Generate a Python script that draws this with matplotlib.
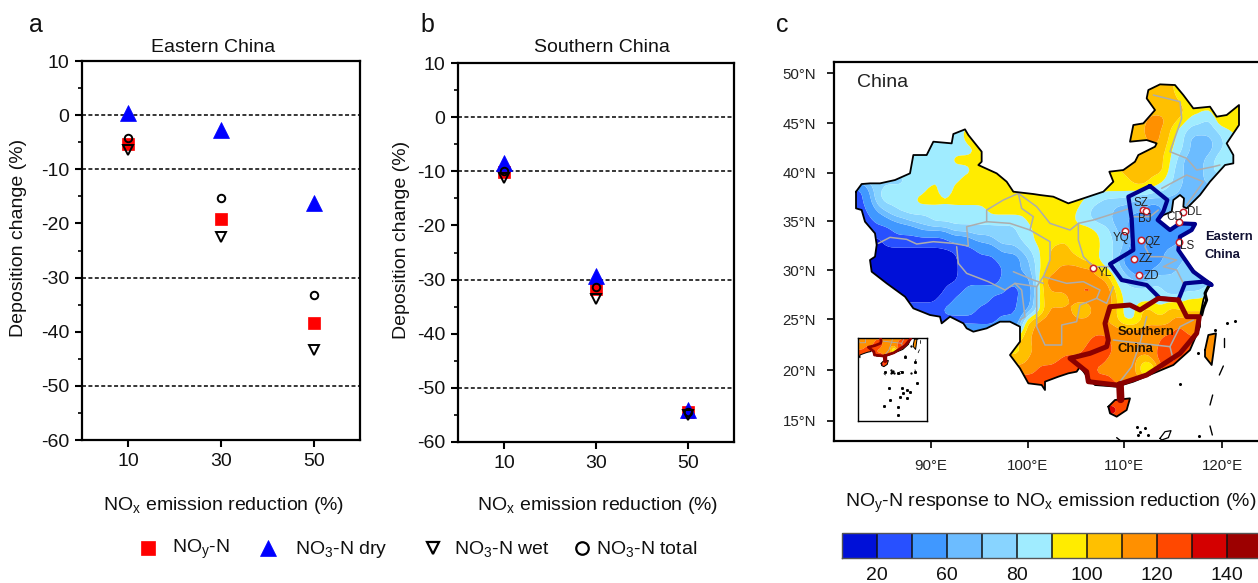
import numpy as np
import matplotlib
matplotlib.use("Agg")
import matplotlib.pyplot as plt
from matplotlib.colors import ListedColormap, BoundaryNorm
from matplotlib.cm import ScalarMappable
from matplotlib.lines import Line2D
from matplotlib.path import Path
from matplotlib.patches import PathPatch
from matplotlib.ticker import MultipleLocator

plt.rcParams['font.family'] = ['Liberation Sans', 'DejaVu Sans']
plt.rcParams['mathtext.fontset'] = 'custom'
plt.rcParams['mathtext.rm'] = 'Liberation Sans'
plt.rcParams['mathtext.default'] = 'regular'
plt.rcParams['axes.unicode_minus'] = False

W, H = 1258, 583

# ---- panels a, b
reductions = ['10', '30', '50']
east_noy = [-5.3, -19.2, -38.3]
east_dry = [0.4, -2.8, -16.2]
east_wet = [-6.5, -22.5, -43.3]
east_tot = [-4.2, -15.3, -33.3]
south_noy = [-10.2, -31.8, -54.5]
south_dry = [-8.5, -29.3, -54.0]
south_wet = [-11.2, -33.5, -55.0]
south_tot = [-10.0, -31.3, -54.5]
dash_levels = [0, -10, -30, -50]

# ---- colour scale
levels = [10, 20, 40, 60, 70, 80, 90, 100, 110, 120, 130, 140, 150]
colors = ['#0010D8', '#2850FF', '#4098FF', '#6CBCFF', '#88D4FF', '#A0ECFF',
          '#FFEC00', '#FFC000', '#FF9000', '#FF4800', '#D40000', '#9C0000']
cbar_ticks = [20, 60, 80, 100, 120, 140]
class_values = [15, 30, 50, 65, 75, 85, 95, 105, 115, 125, 135, 145]

# ---- response field: (colour class, end of the band)
scan_y0, scan_dy = 60, 30
scan_lines = [
 [(5,900),(7,1040),(5,1300)],
 [(5,900),(7,1035),(5,1300)],
 [(5,900),(7,1050),(6,1070),(5,1300)],
 [(5,900),(7,1065),(6,1300)],
 [(5,900),(7,950),(8,1010),(7,1050),(6,1070),(5,1115),(4,1150),(6,1165),(7,1190),(6,1300)],
 [(5,395),(6,440),(7,940),(8,990),(7,1025),(5,1070),(4,1160),(5,1200),(6,1300)],
 [(5,395),(6,440),(7,950),(8,990),(7,1015),(6,1030),(5,1070),(3,1150),(4,1180),(5,1300)],
 [(5,440),(6,480),(7,1010),(6,1020),(5,1060),(4,1080),(3,1150),(4,1175),(5,1300)],
 [(5,355),(6,470),(7,1000),(6,1015),(5,1050),(3,1120),(4,1160),(6,1200),(5,1300)],
 [(5,430),(6,870),(7,1005),(5,1030),(4,1060),(3,1120),(4,1150),(5,1300)],
 [(4,225),(5,320),(6,360),(5,385),(6,900),(7,960),(6,1000),(5,1030),(4,1060),(3,1120),(4,1300)],
 [(1,95),(2,110),(3,130),(4,150),(5,285),(6,325),(4,360),(6,480),(5,500),(6,960),(5,1010),(4,1050),(3,1300)],
 [(1,100),(2,115),(3,130),(4,150),(5,245),(6,755),(5,810),(4,900),(3,1300)],
 [(1,105),(2,130),(3,160),(4,195),(5,470),(6,740),(5,780),(4,850),(3,950),(2,990),(3,1300)],
 [(1,125),(2,165),(3,225),(4,300),(5,590),(6,730),(5,775),(4,840),(3,900),(2,1000),(3,1300)],
 [(1,190),(2,260),(3,360),(4,560),(5,605),(6,800),(5,850),(3,900),(2,1300)],
 [(0,160),(1,350),(2,420),(3,490),(4,570),(5,610),(6,695),(7,710),(6,810),(5,850),(4,880),(3,910),(2,1040),(3,1300)],
 [(0,380),(1,440),(2,500),(3,570),(4,595),(5,625),(6,660),(7,720),(6,810),(5,850),(4,880),(3,900),(2,1000),(3,1300)],
 [(0,385),(1,500),(2,570),(3,595),(4,620),(6,660),(7,750),(6,800),(5,850),(4,870),(2,990),(3,1060),(4,1300)],
 [(0,385),(1,520),(2,560),(3,605),(5,640),(7,680),(8,800),(6,830),(5,870),(3,900),(2,960),(3,1040),(4,1300)],
 [(0,390),(1,510),(2,600),(4,630),(8,720),(9,740),(8,840),(6,850),(5,880),(4,910),(3,960),(4,1300)],
 [(0,350),(1,400),(2,530),(1,570),(2,610),(4,630),(7,660),(8,750),(9,790),(8,850),(6,870),(5,1000),(4,1120),(5,1300)],
 [(0,330),(1,370),(2,480),(1,560),(2,610),(5,630),(7,680),(6,710),(8,800),(9,840),(7,870),(5,1060),(6,1300)],
 [(1,330),(2,440),(1,560),(2,600),(4,625),(6,650),(8,730),(6,775),(8,830),(7,870),(5,920),(7,975),(5,1000),(7,1050),(6,1300)],
 [(1,500),(2,580),(7,620),(8,830),(7,870),(5,930),(7,1030),(8,1300)],
 [(2,570),(7,610),(8,1030),(9,1055),(8,1300)],
 [(7,600),(8,780),(9,840),(8,990),(9,1100),(8,1300)],
 [(6,575),(7,610),(8,650),(7,690),(8,760),(9,850),(8,980),(9,1100),(8,1300)],
 [(7,590),(8,680),(9,830),(8,920),(7,970),(9,1100),(8,1300)],
 [(8,620),(9,790),(8,930),(4,975),(9,1300)],
 [(9,850),(8,950),(9,1300)],
 [(10,660),(9,1300)],
 [(9,1300)],
 [(10,870),(9,1300)],
 [(9,1300)],
 [(9,1300)],
]

# ---- outlines traced on the map frame
china_main = [(78,395),(95,372),(120,370),(150,370),(195,360),(240,340),(250,285),(290,285),(310,245),(365,250),(370,222),
 (405,208),(415,225),(455,275),(455,305),(445,315),(500,340),(530,365),(550,395),(610,402),(630,405),(670,410),(715,430),
 (760,415),(820,395),(850,365),(838,335),(880,330),(915,305),(925,285),(975,260),(980,250),(950,240),(900,245),(910,195),
 (940,190),(975,150),(950,115),(955,90),(990,73),(1035,75),(1060,105),(1090,145),(1140,140),(1160,170),(1190,165),
 (1227,135),(1227,195),(1190,250),(1210,285),(1210,310),(1185,315),(1140,365),(1110,405),(1070,445),(1060,440),(1062,415),
 (1050,405),(1030,420),(1025,455),(1000,465),(985,480),(1020,510),(1050,490),(1095,490),(1085,510),(1050,530),(1045,570),
 (1090,630),(1110,650),(1145,670),(1130,690),(1120,720),(1110,770),(1110,800),(1080,870),(1030,915),(970,940),(910,965),
 (860,980),(795,975),(775,955),(750,920),(740,935),(715,940),(685,950),(645,965),(645,990),(635,975),(595,970),(570,925),
 (540,885),(570,845),(570,800),(540,785),(510,785),(470,805),(430,815),(410,805),(400,790),(360,770),(335,790),(330,770),
 (300,765),(250,745),(225,710),(170,670),(125,635),(120,600),(135,590),(140,555),(135,520),(105,485),(95,450),(78,445)]
hainan = [(835,1040),(855,1020),(900,1015),(890,1050),(860,1070),(840,1060)]
taiwan = [(1125,870),(1135,825),(1158,820),(1150,880),(1145,915),(1125,890)]
eastern_region = [(960,378),(895,410),(905,475),(910,570),(840,612),(875,660),(950,675),(990,715),(1045,720),(1065,670),
 (1120,665),(1145,675),(1090,635),(1045,570),(1050,530),(1085,510),(1095,492),(1050,490),(1020,510),(983,480),
 (1000,455),(1012,420),(960,378)]
southern_region = [(1045,720),(985,715),(930,750),(900,735),(840,740),(825,790),(835,840),(830,860),(780,880),(720,895),
 (770,935),(775,965),(860,975),(950,945),(1050,880),(1100,820),(1108,770),(1070,770),(1045,720)]
hainan_link = [(870,975),(872,1018)]
province_lines = [
 [(145,550),(180,532),(230,538),(260,552),(310,545),(370,550),(415,558),(410,500),(470,485),(540,490),(600,510)],
 [(380,560),(385,610),(410,640),(475,665),(525,690),(555,670),(575,690),(585,770),(570,780)],
 [(470,485),(470,450),(520,420),(565,400),(575,445),(610,470),(600,510),(660,545),(660,600),(640,650),(620,680),(555,670)],
 [(550,635),(610,660),(640,670)],
 [(565,400),(620,440),(660,490),(720,510),(745,490),(790,480),(900,445)],
 [(745,490),(745,540),(760,590),(790,620),(850,620)],
 [(640,650),(710,670),(760,665),(810,690),(800,715),(750,735),(740,785),(695,795),(695,855),(645,855),(620,800),(620,680)],
 [(800,715),(830,730),(850,680)],
 [(850,840),(930,850),(950,770)],
 [(930,850),(905,920),(870,965)],
 [(930,850),(1020,860),(1030,900)],
 [(1020,860),(1050,800),(1090,780)],
 [(960,530),(945,560),(960,590),(1000,590),(1040,600),(1000,620),(1040,630),(1060,670)],
 [(905,470),(960,470),(985,450)],
 [(970,105),(1050,125),(1055,175),(1020,275),(1070,295),(1100,330),(1150,320),(1170,315)],
 [(995,385),(1070,345),(1120,365),(1070,435)],
]
coast_thick = [(1135,680),(1125,700),(1130,720),(1120,745),(1115,765)]
island_dashes = [[(1183,833),(1183,860)],[(1180,918),(1168,945)],[(1148,1005),(1140,1035)],[(1140,1098),(1147,1125)],
                 [(860,1133),(875,1145)]]
island_shape = [(990,1135),(1005,1115),(1023,1112),(1015,1133),(995,1140)]
island_dots = [(1050,972),(1105,880),(1108,1128),(920,1100),(945,1105),(930,1115),(955,1125),(925,1125),(1190,790),
               (1215,782),(1155,810)]
inset_dots = [(165,935),(185,935),(205,938),(215,935),(255,935),(178,985),(215,985),(230,990),(240,995),(220,1000),
              (210,1010),(230,1015),(180,1020),(162,1037),(205,1042),(205,1065),(260,970),(255,905),(225,890)]
sites = ['SZ', 'BJ', 'CD', 'DL', 'YQ', 'QZ', 'LS', 'ZZ', 'ZD', 'YL']
site_xy = [(940,450),(948,453),(1048,487),(1060,457),(885,513),(932,540),(1048,546),(912,598),(928,645),(789,623)]
site_label_xy = [(932,428),(944,477),(1033,472),(1093,457),(873,534),(969,547),(1072,558),(947,598),(965,649),(825,640)]
lon_ticks = [303, 594, 883, 1177]
lon_labels = ['90°E', '100°E', '110°E', '120°E']
lat_ticks = [40, 190, 338, 483, 630, 778, 930, 1082]
lat_labels = ['50°N', '45°N', '40°N', '35°N', '30°N', '25°N', '20°N', '15°N']

fig = plt.figure(figsize=(W / 100, H / 100), dpi=100)


def rect(l, t, r, b):
    return [l / W, 1 - b / H, (r - l) / W, (b - t) / H]


def ptext(x, y, s, **kw):
    kw.setdefault('ha', 'center')
    kw.setdefault('va', 'center')
    kw.setdefault('fontsize', 14)
    kw.setdefault('color', '#111111')
    return fig.text(x / W, 1 - y / H, s, **kw)


def scatter_panel(ax, noy, dry, wet, tot):
    xs = np.arange(3)
    for lv in dash_levels:
        ax.axhline(lv, color='k', lw=1.1, ls=(0, (2.6, 1.6)), zorder=1)
    ax.plot(xs, noy, ls='', marker='s', ms=8.6, mfc='#FF0000', mec='#FF0000', mew=0.5, zorder=3)
    ax.plot(xs, dry, ls='', marker='^', ms=11.5, mfc='#0000FF', mec='#0000FF', mew=0.5, zorder=4)
    ax.plot(xs, wet, ls='', marker='v', ms=6.5, mfc='none', mec='k', mew=1.4, zorder=5)
    ax.plot(xs, tot, ls='', marker='o', ms=5.4, mfc='none', mec='k', mew=1.4, zorder=6)
    ax.set_xlim(-0.5, 2.5)
    ax.set_ylim(-60, 10)
    ax.set_xticks(xs)
    ax.set_xticklabels(reductions)
    ax.yaxis.set_major_locator(MultipleLocator(10))
    ax.yaxis.set_minor_locator(MultipleLocator(5))
    ax.tick_params(axis='both', which='major', labelsize=14, width=1.5, length=5, pad=4, labelcolor='#111111')
    ax.tick_params(axis='y', which='minor', width=1.2, length=3)
    for s in ax.spines.values():
        s.set_linewidth(1.6)


axa = fig.add_axes(rect(82, 61, 360, 440))
axb = fig.add_axes(rect(458, 63, 734, 442))
scatter_panel(axa, east_noy, east_dry, east_wet, east_tot)
scatter_panel(axb, south_noy, south_dry, south_wet, south_tot)
ptext(19, 238, 'Deposition change (%)', rotation=90)
ptext(401, 240, 'Deposition change (%)', rotation=90)
ptext(224, 505, r'NO$_{x}$ emission reduction (%)')
ptext(598, 505, r'NO$_{x}$ emission reduction (%)')
ptext(213, 48, 'Eastern China')
ptext(602, 48, 'Southern China')
ptext(36, 25, 'a', fontsize=18)
ptext(427, 25, 'b', fontsize=18)
ptext(782, 25, 'c', fontsize=18)

# legend
leg_items = [('s', '#FF0000', '#FF0000', 10.5, 0.5, 148, 'NO$_{y}$-N', 172),
             ('^', '#0000FF', '#0000FF', 12, 0.5, 268, 'NO$_{3}$-N dry', 295),
             ('v', 'none', 'k', 9, 1.6, 433, 'NO$_{3}$-N wet', 454),
             ('o', 'none', 'k', 9, 1.6, 582, 'NO$_{3}$-N total', 596)]
for m, fc, ec, ms, mew, mx, lab, tx in leg_items:
    fig.add_artist(Line2D([mx / W], [1 - 548 / H], transform=fig.transFigure, ls='', marker=m,
                          ms=ms, mfc=fc, mec=ec, mew=mew))
    ptext(tx, 549, lab, ha='left')

# ---- map
gx = np.arange(45, 1300, 10)
gy0 = scan_y0 + scan_dy * np.arange(len(scan_lines))
gy = np.arange(gy0[0], gy0[-1] + 1, 10)


def scan_row(bands):
    ends = np.array([b[1] for b in bands])
    classes = [b[0] for b in bands]
    idx = np.clip(np.searchsorted(ends, gx), 0, len(classes) - 1)
    return [class_values[classes[i]] for i in idx]


def soften(a, passes=3):
    # the scan lines meet in steps; a small box filter rounds the band edges
    for _ in range(passes):
        p = np.pad(a, 1, mode='edge')
        a = sum(p[1 + i:p.shape[0] - 1 + i, 1 + j:p.shape[1] - 1 + j]
                for i in (-1, 0, 1) for j in (-1, 0, 1)) / 9.0
    return a


field_scan = np.array([scan_row(b) for b in scan_lines], dtype=float)
field = np.array([np.interp(gy, gy0, col) for col in field_scan.T]).T
field = soften(field)
cmap = ListedColormap(colors)
norm = BoundaryNorm(levels, cmap.N)


def closed_path(polys):
    verts, codes = [], []
    for p in polys:
        verts += list(p) + [p[0]]
        codes += [Path.MOVETO] + [Path.LINETO] * (len(p) - 1) + [Path.CLOSEPOLY]
    return Path(verts, codes)


def line(ax, pts, **kw):
    a = np.array(pts, dtype=float)
    ax.plot(a[:, 0], a[:, 1], solid_joinstyle='round', solid_capstyle='round', **kw)


def draw_map(ax, scale):
    cs = ax.contourf(gx, gy, field, levels=levels, cmap=cmap, norm=norm, zorder=1, antialiased=True)
    clip = PathPatch(closed_path([china_main, hainan, taiwan]), transform=ax.transData, fc='none', ec='none')
    ax.add_patch(clip)
    cs.set_clip_path(clip)
    for pl in province_lines:
        line(ax, pl, color='#ADADAD', lw=1.1 * scale, zorder=2)
    for poly in (china_main, hainan, taiwan):
        line(ax, list(poly) + [poly[0]], color='k', lw=1.3 * scale, zorder=3)
    line(ax, eastern_region, color='#00008B', lw=3.0 * scale, zorder=5)
    line(ax, southern_region, color='#8B0000', lw=3.6 * scale, zorder=6)
    line(ax, hainan_link, color='#8B0000', lw=5.5 * scale, zorder=6)
    line(ax, coast_thick, color='k', lw=2.2 * scale, zorder=4)
    for d in island_dashes:
        line(ax, d, color='k', lw=1.0 * scale, zorder=3)
    line(ax, list(island_shape) + [island_shape[0]], color='k', lw=0.9 * scale, zorder=3)
    a = np.array(island_dots)
    ax.plot(a[:, 0], a[:, 1], ls='', marker='o', ms=1.2 * scale, color='k', zorder=3)


axm = fig.add_axes(rect(834, 61.7, 1268, 441))
axm.set_xlim(12, 1314)
axm.set_ylim(1143, 5)
draw_map(axm, 1.0)
axm.set_xticks(lon_ticks)
axm.set_xticklabels(lon_labels)
axm.set_yticks(lat_ticks)
axm.set_yticklabels(lat_labels)
axm.tick_params(axis='both', labelsize=10.8, width=1.2, length=5, pad=8, labelcolor='#222222')
for s in axm.spines.values():
    s.set_linewidth(1.6)
axm.text(82, 67, 'China', fontsize=14, color='#222222', ha='left', va='center')
sx, sy = np.array(site_xy).T
axm.plot(sx, sy, ls='', marker='o', ms=4.6, mfc='white', mec='#C8202A', mew=1.1, zorder=8)
for name, (tx, ty) in zip(sites, site_label_xy):
    axm.text(tx, ty, name, fontsize=8.4, color='#222222', ha='center', va='center', zorder=9)
axm.text(1125, 532, 'Eastern', fontsize=9.4, fontweight='bold', color='#111133', ha='left', va='center', zorder=9)
axm.text(1125, 584, 'China', fontsize=9.4, fontweight='bold', color='#111133', ha='left', va='center', zorder=9)
axm.text(864, 816, 'Southern', fontsize=9.4, fontweight='bold', color='#221100', ha='left', va='center', zorder=9)
axm.text(864, 866, 'China', fontsize=9.4, fontweight='bold', color='#221100', ha='left', va='center', zorder=9)

axi = fig.add_axes(rect(858.3, 338.3, 926.7, 420.7), zorder=5)
axi.set_xlim(630, 1245)
axi.set_ylim(1556, 815)
draw_map(axi, 0.55)
axi.set_xticks([])
axi.set_yticks([])
for s in axi.spines.values():
    s.set_linewidth(1.0)
idx = [630 + (p[0] - 85) * 3 for p in inset_dots]
idy = [815 + (p[1] - 835) * 3 for p in inset_dots]
axi.plot(idx, idy, ls='', marker='s', ms=1.1, color='k', zorder=3)

ptext(1051, 503, r'NO$_{y}$-N response to NO$_{x}$ emission reduction (%)')

# ---- colour bar
cax = fig.add_axes(rect(842, 532.7, 1262, 557.7))
cb = fig.colorbar(ScalarMappable(norm=norm, cmap=cmap), cax=cax, orientation='horizontal',
                  spacing='uniform', ticks=cbar_ticks, drawedges=True)
cb.minorticks_off()
cb.dividers.set_color('#111111')
cb.dividers.set_linewidth(1.1)
cb.outline.set_edgecolor('#555555')
cb.outline.set_linewidth(1.0)
cax.tick_params(which='both', labelsize=14, length=0, pad=7, labelcolor='#111111')

fig.savefig('out.png', dpi=100)
